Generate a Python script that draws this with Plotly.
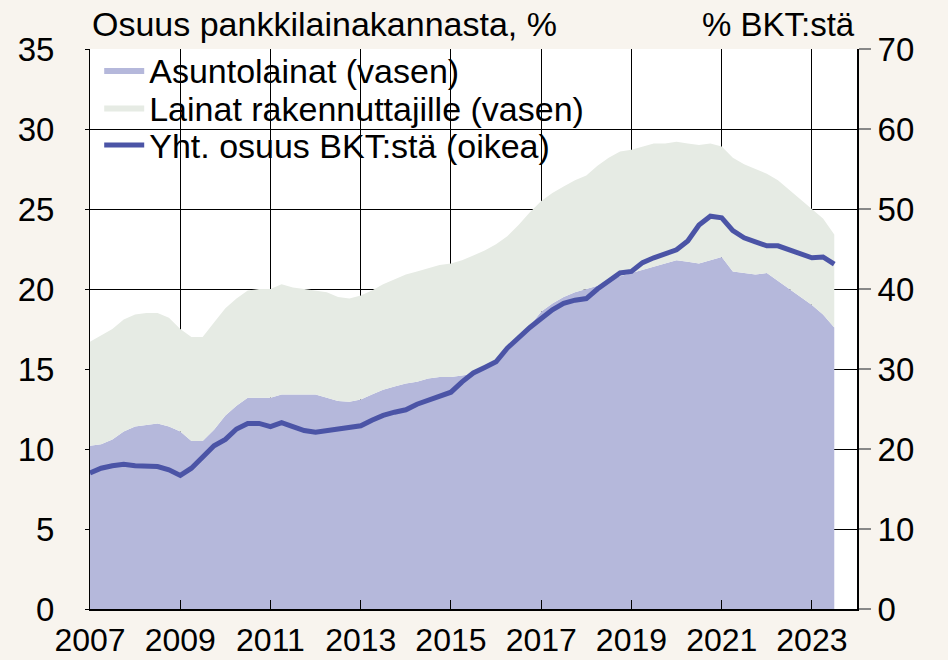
import plotly.graph_objects as go
import pandas as pd

# Quarterly observations 2007Q1 .. 2023Q3
quarters = pd.date_range("2007-01-01", "2023-07-01", freq="QS").strftime("%Y-%m-%d").tolist()

# Asuntolainat (vasen), % of bank loan stock
asuntolainat = [
    10.2, 10.3, 10.6, 11.1, 11.4, 11.5, 11.6, 11.4, 11.1, 10.5, 10.5, 11.2,
    12.1, 12.7, 13.2, 13.2, 13.2, 13.4, 13.4, 13.4, 13.4, 13.2, 13.0, 12.95,
    13.1, 13.4, 13.7, 13.9, 14.1, 14.2, 14.4, 14.5, 14.5, 14.6, 14.7, 15.0,
    15.5, 16.1, 16.8, 17.7, 18.6, 19.1, 19.5, 19.8, 20.0, 20.2, 20.5, 20.8,
    21.0, 21.2, 21.4, 21.6, 21.8, 21.7, 21.6, 21.8, 22.0, 21.1, 21.0, 20.9,
    21.0, 20.5, 20.0, 19.5, 19.0, 18.4, 17.6,
]

# Lainat rakennuttajille (vasen), % of bank loan stock
rakennuttajat = [
    6.5, 6.8, 6.9, 7.0, 7.0, 7.0, 6.9, 6.8, 6.4, 6.5, 6.5, 6.7,
    6.7, 6.7, 6.7, 6.8, 6.8, 6.9, 6.7, 6.6, 6.5, 6.6, 6.5, 6.45,
    6.5, 6.5, 6.6, 6.7, 6.8, 6.9, 6.9, 7.0, 7.1, 7.2, 7.4, 7.4,
    7.3, 7.2, 7.2, 7.1, 6.9, 6.9, 6.9, 7.0, 7.1, 7.5, 7.7, 7.8,
    7.7, 7.7, 7.7, 7.5, 7.4, 7.4, 7.4, 7.3, 6.9, 7.1, 6.8, 6.6,
    6.2, 6.3, 6.2, 6.1, 6.0, 6.0, 5.8,
]

# Yht. osuus BKT:stä (oikea), % of GDP
osuus_bkt = [
    17.0, 17.6, 17.9, 18.1, 17.9, 17.9, 17.8, 17.4, 16.7, 17.6, 19.0, 20.4,
    21.2, 22.5, 23.2, 23.2, 22.8, 23.3, 22.8, 22.3, 22.1, 22.3, 22.4, 22.7,
    22.9, 23.6, 24.2, 24.6, 24.9, 25.6, 26.1, 26.6, 27.1, 28.4, 29.5, 30.2,
    30.9, 32.6, 34.0, 35.2, 36.3, 37.4, 38.2, 38.6, 38.8, 40.0, 41.0, 42.0,
    42.2, 43.3, 43.9, 44.4, 44.9, 46.0, 48.0, 49.1, 48.9, 47.3, 46.4, 45.9,
    45.4, 45.4, 44.9, 44.4, 43.9, 44.0, 43.1,
]

left_ticks = [0, 5, 10, 15, 20, 25, 30, 35]
right_ticks = [0, 10, 20, 30, 40, 50, 60, 70]

FONT = "Liberation Sans, Arial, sans-serif"
BG = "#f8f4ee"
BLUE_FILL = "#b5b8db"
GREEN_FILL = "#e6ebe4"
LINE = "#4b54a6"

fig = go.Figure()
fig.add_trace(go.Scatter(
    x=quarters, y=asuntolainat, name="Asuntolainat (vasen)",
    mode="lines", line=dict(width=0, color=BLUE_FILL),
    fill="tozeroy", fillcolor=BLUE_FILL, stackgroup="a", legend="legend",
))
fig.add_trace(go.Scatter(
    x=quarters, y=rakennuttajat, name="Lainat rakennuttajille (vasen)",
    mode="lines", line=dict(width=0, color=GREEN_FILL),
    fill="tonexty", fillcolor=GREEN_FILL, stackgroup="a", legend="legend2",
))
fig.add_trace(go.Scatter(
    x=quarters, y=osuus_bkt, name="Yht. osuus BKT:stä (oikea)",
    mode="lines", line=dict(width=5, color=LINE), yaxis="y2", legend="legend3",
))

leg_common = dict(x=0.012, xanchor="left", yanchor="middle", bgcolor="rgba(0,0,0,0)",
                  borderwidth=0, font=dict(size=34), itemwidth=40)

fig.update_layout(
    width=948, height=660,
    margin=dict(l=90, r=91, t=49, b=51),
    paper_bgcolor=BG, plot_bgcolor="white",
    font=dict(family=FONT, size=33, color="black"),
    showlegend=True,
    legend=dict(y=0.962, **leg_common),
    legend2=dict(y=0.895, **leg_common),
    legend3=dict(y=0.828, **leg_common),
    xaxis=dict(
        type="date", range=["2007-01-01", "2024-01-01"],
        tick0="2007-01-01", dtick="M24", tickformat="%Y",
        ticks="inside", ticklen=9, tickcolor="black", tickwidth=1,
        showgrid=True, gridcolor="black", gridwidth=1,
        showline=True, linecolor="black", linewidth=2,
        zeroline=False, tickfont=dict(size=32),
        ticklabelstandoff=2, automargin=False,
    ),
    yaxis=dict(
        range=[0, 35], tickvals=left_ticks,
        ticks="outside", ticklen=4, tickcolor="black",
        showgrid=True, gridcolor="black", gridwidth=1,
        showline=True, linecolor="black", linewidth=1,
        zeroline=False, tickfont=dict(size=33),
        layer="below traces", ticklabelstandoff=24, automargin=False,
    ),
    yaxis2=dict(
        range=[0, 70], tickvals=right_ticks, overlaying="y", side="right",
        ticks="outside", ticklen=12, tickcolor="#888888", tickwidth=2,
        showgrid=False, showline=True, linecolor="black", linewidth=2,
        zeroline=False, tickfont=dict(size=33), automargin=False,
    ),
    shapes=[
        # white backdrop behind the legend rows (hides the gridlines there)
        dict(type="rect", xref="paper", yref="paper", x0=0.003, x1=0.658,
             y0=0.789, y1=0.996, fillcolor="white", line=dict(width=0),
             layer="between"),
    ],
    annotations=[
        dict(text="Osuus pankkilainakannasta, %", x=0, y=1, xref="paper", yref="paper",
             xanchor="left", yanchor="bottom", showarrow=False, yshift=4,
             font=dict(size=34)),
        dict(text="% BKT:stä", x=1, y=1, xref="paper", yref="paper",
             xanchor="right", yanchor="bottom", showarrow=False, yshift=4,
             font=dict(size=33)),
    ],
)

fig.write_html("out.html", config={"displayModeBar": False},
               post_script="document.body.style.margin='0';")
